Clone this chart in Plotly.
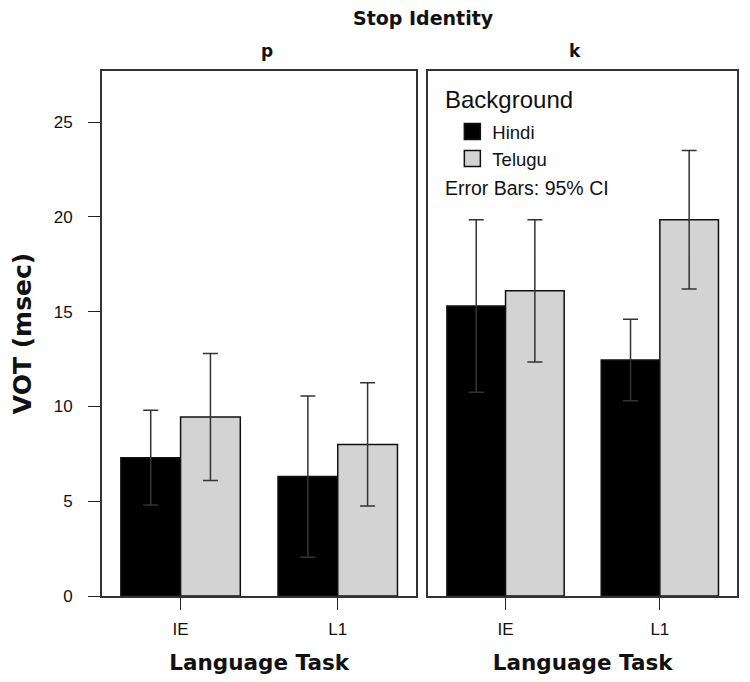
import plotly.graph_objects as go

tasks = ["IE", "L1"]
groups = ["Hindi", "Telugu"]
# panel p
p_hindi = [7.3, 6.3]
p_hindi_ci = [2.5, 4.25]
p_telugu = [9.45, 8.0]
p_telugu_ci = [3.35, 3.25]
# panel k
k_hindi = [15.3, 12.45]
k_hindi_ci = [4.55, 2.15]
k_telugu = [16.1, 19.85]
k_telugu_ci = [3.75, 3.65]

colors = {"Hindi": "#000000", "Telugu": "#d3d3d3"}
FONT = "Liberation Sans, Arial, sans-serif"
BOLD = "DejaVu Sans"

fig = go.Figure()
err_style = dict(type="data", visible=True, color="#333333", thickness=1.5, width=7.5)

for name, vals, ci, ax in [
    ("Hindi", p_hindi, p_hindi_ci, "x"),
    ("Telugu", p_telugu, p_telugu_ci, "x"),
    ("Hindi", k_hindi, k_hindi_ci, "x2"),
    ("Telugu", k_telugu, k_telugu_ci, "x2"),
]:
    fig.add_trace(go.Bar(
        x=tasks, y=vals, name=name, legendgroup=name, showlegend=False,
        marker=dict(color=colors[name], line=dict(color="#111111", width=1.5)),
        error_y=dict(array=ci, **err_style),
        xaxis=ax, yaxis="y" if ax == "x" else "y2",
    ))

# legend entries (squares)
for name in groups:
    fig.add_trace(go.Scatter(
        x=[None], y=[None], mode="markers", name=name, legendgroup=name,
        marker=dict(symbol="square", size=16, color=colors[name],
                    line=dict(color="#111111", width=1.5)),
        xaxis="x2", yaxis="y2", hoverinfo="skip",
    ))

axis_common = dict(showline=True, linecolor="#333333", linewidth=1.8, mirror=True,
                   showgrid=False, zeroline=False)

W, H = 743, 675
L, R, T, B = 93, 12, 63, 87

def px(X):
    return (X - 100) / 638

def py(Y):
    return (595 - Y) / 525

xtitle = dict(text="<b>Language Task</b>", font=dict(family=BOLD, size=21.5), standoff=17)

fig.update_layout(
    width=W, height=H,
    margin=dict(l=L, r=R, t=T, b=B),
    paper_bgcolor="white", plot_bgcolor="white",
    barmode="group", bargap=0.24, bargroupgap=0,
    font=dict(family=FONT, size=17, color="#111111"),
    xaxis=dict(domain=[0, 0.495], type="category", ticks="outside", ticklen=12,
               tickcolor="#222222", tickfont=dict(size=17), ticklabelstandoff=5,
               title=xtitle, **axis_common),
    xaxis2=dict(domain=[0.514, 1.0], type="category", ticks="outside", ticklen=12,
                tickcolor="#222222", tickfont=dict(size=17), ticklabelstandoff=5,
                title=xtitle, **axis_common),
    yaxis=dict(range=[0, 27.7], tickvals=[0, 5, 10, 15, 20, 25], ticks="outside", ticklen=12,
               tickcolor="#222222", tickfont=dict(size=17), ticklabelstandoff=12,
               title=dict(text="<b>VOT (msec)</b>", font=dict(family=BOLD, size=25), standoff=16),
               **axis_common),
    yaxis2=dict(range=[0, 27.7], anchor="x2", showticklabels=False, ticks="", **axis_common),
    legend=dict(x=px(452), y=py(112), xanchor="left", yanchor="top",
                bgcolor="rgba(0,0,0,0)", font=dict(size=18.5),
                tracegroupgap=0, itemsizing="trace"),
    annotations=[
        dict(text="<b>Stop Identity</b>", x=px(423), xref="paper", y=py(17), yref="paper",
             yanchor="middle", showarrow=False, font=dict(family=BOLD, size=19)),
        dict(text="<b>p</b>", x=px(258), xref="paper", y=py(50), yref="paper", yanchor="middle",
             showarrow=False, font=dict(family=BOLD, size=17)),
        dict(text="<b>k</b>", x=px(583), xref="paper", y=py(50), yref="paper", yanchor="middle",
             showarrow=False, font=dict(family=BOLD, size=17)),
        dict(text="Background", x=px(443), xref="paper", y=py(98), yref="paper",
             xanchor="left", yanchor="middle", showarrow=False, font=dict(size=24)),
        dict(text="Error Bars: 95% CI", x=px(443), xref="paper", y=py(187), yref="paper",
             xanchor="left", yanchor="middle", showarrow=False, font=dict(size=19.5)),
    ],
)

fig.write_html("out.html")
